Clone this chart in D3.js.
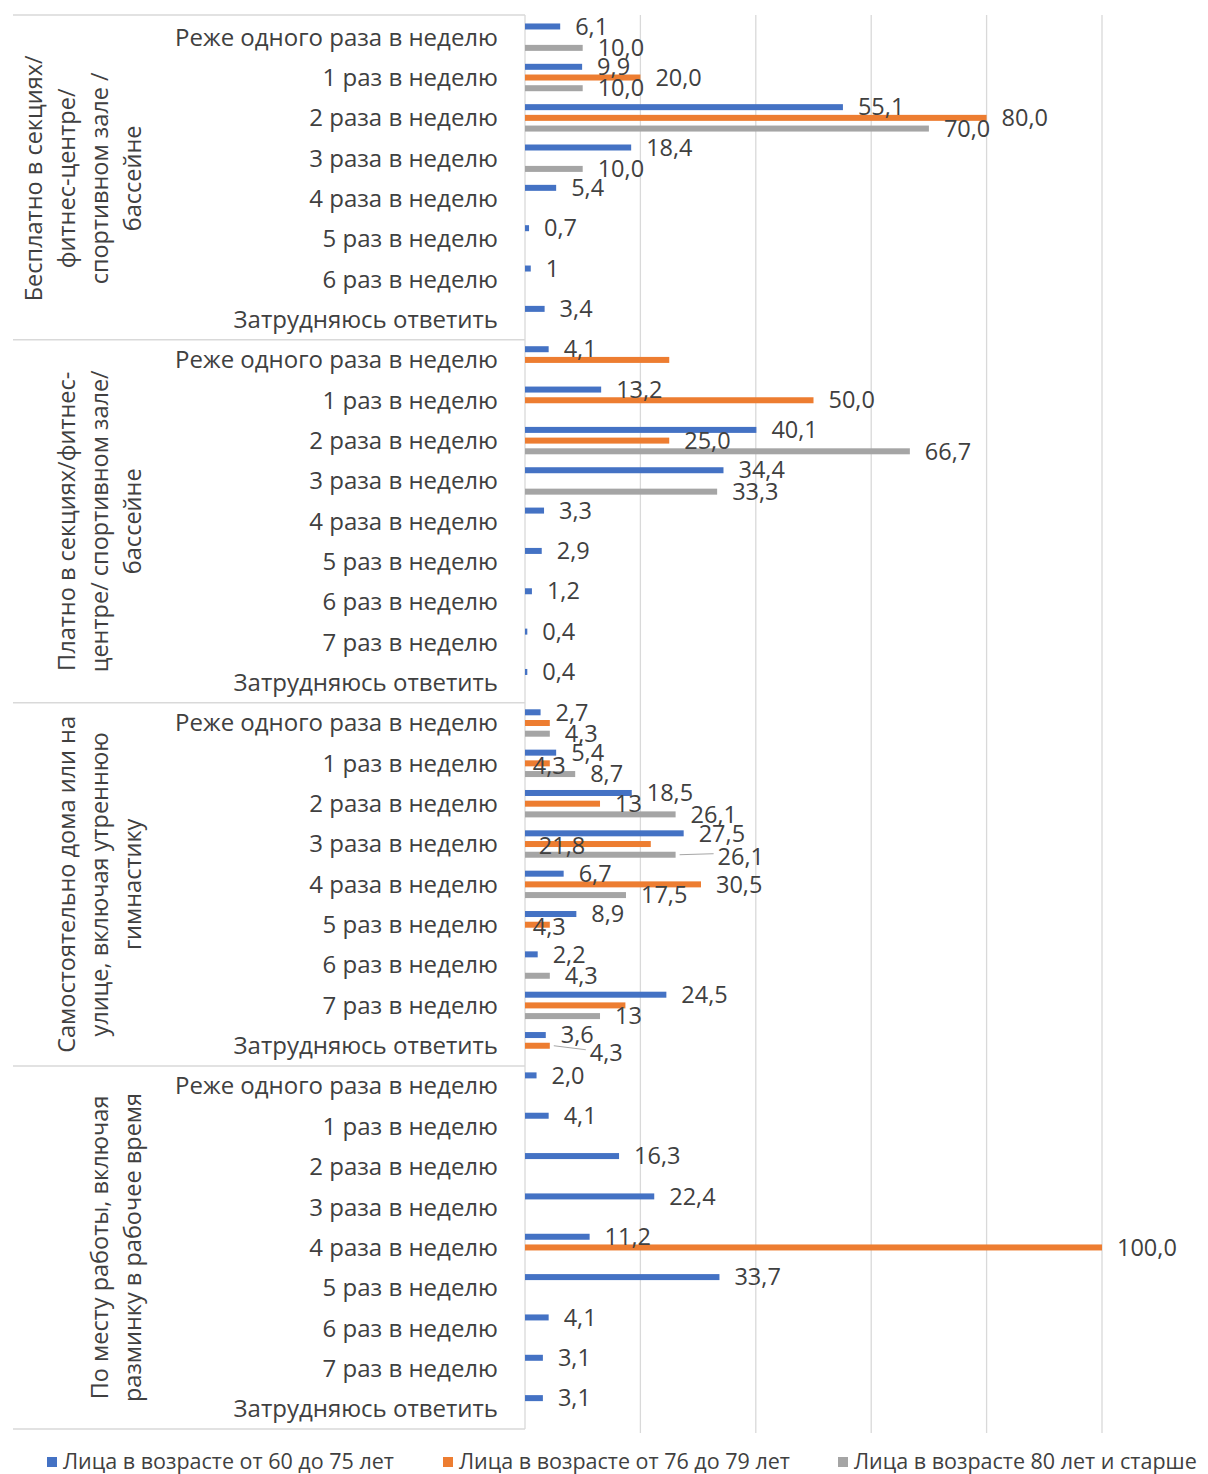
<!DOCTYPE html>
<html lang="ru">
<head>
<meta charset="utf-8">
<script src="https://cdn.jsdelivr.net/npm/d3@7"></script>
<style>
  html, body { margin: 0; padding: 0; background: #fff; }
  svg { display: block; font-family: "Open Sans", "Noto Sans", sans-serif; }
</style>
</head>
<body>
<svg id="chart" width="1208" height="1474"></svg>
<script>
// ---- data -------------------------------------------------------------
const groupNames = [
  ["Бесплатно в секциях/", "фитнес-центре/", "спортивном зале /", "бассейне"],
  ["Платно в секциях/фитнес-", "центре/ спортивном зале/", "бассейне"],
  ["Самостоятельно дома или на", "улице, включая утреннюю", "гимнастику"],
  ["По месту работы, включая", "разминку в рабочее время"]
];
const freqShort = ["Реже одного раза в неделю", "1 раз в неделю", "2 раза в неделю", "3 раза в неделю",
  "4 раза в неделю", "5 раз в неделю", "6 раз в неделю", "Затрудняюсь ответить"];
const freqFull = ["Реже одного раза в неделю", "1 раз в неделю", "2 раза в неделю", "3 раза в неделю",
  "4 раза в неделю", "5 раз в неделю", "6 раз в неделю", "7 раз в неделю", "Затрудняюсь ответить"];
const groupCategories = [freqShort, freqFull, freqFull, freqFull];

const seriesNames = ["Лица в возрасте от 60 до 75 лет", "Лица в возрасте от 76 до 79 лет", "Лица в возрасте 80 лет и старше"];
const seriesColors = ["#4472C4", "#ED7D31", "#A5A5A5"];

// values per category, groups concatenated in order
const age60to75 = [
  6.1, 9.9, 55.1, 18.4, 5.4, 0.7, 1, 3.4,
  4.1, 13.2, 40.1, 34.4, 3.3, 2.9, 1.2, 0.4, 0.4,
  2.7, 5.4, 18.5, 27.5, 6.7, 8.9, 2.2, 24.5, 3.6,
  2.0, 4.1, 16.3, 22.4, 11.2, 33.7, 4.1, 3.1, 3.1
];
const age76to79 = [
  null, 20.0, 80.0, null, null, null, null, null,
  25.0, 50.0, 25.0, null, null, null, null, null, null,
  4.3, 4.3, 13, 21.8, 30.5, 4.3, null, 17.4, 4.3,
  null, null, null, null, 100.0, null, null, null, null
];
const age80plus = [
  10.0, 10.0, 70.0, 10.0, null, null, null, null,
  null, null, 66.7, 33.3, null, null, null, null, null,
  4.3, 8.7, 26.1, 26.1, 17.5, null, 4.3, 13, null,
  null, null, null, null, null, null, null, null, null
];
const seriesValues = [age60to75, age76to79, age80plus];

const xTicks = [0, 20, 40, 60, 80, 100];

// labels shown without decimals, and bars whose label is not shown
const wholeNumberLabels = ["0:6", "1:19", "2:24"];
const hiddenLabels = ["1:8", "1:17", "1:24"];
// labels dragged away from their default spot (dx, dy) and whether a leader line joins them
const movedLabels = {
  "1:18": { dx: -32, dy: 2 },
  "1:22": { dx: -32, dy: 2 },
  "1:20": { dx: -127, dy: 2 },
  "2:20": { dx: 27, dy: 2, leader: true },
  "1:25": { dx: 25, dy: 7, leader: true }
};

// ---- layout -----------------------------------------------------------
const svg = d3.select("#chart");
const plotLeft = 525, plotRight = 1102, plotTop = 17, plotBottom = 1429;
const axisLeft = 13;
const textColor = "#404040";
const lineColor = "#D9D9D9";

const rows = [];
groupCategories.forEach((cats, g) => cats.forEach(c => rows.push({ group: g, cat: c })));

const x = d3.scaleLinear().domain([0, 100]).range([plotLeft, plotRight]);
const y = d3.scaleBand().domain(d3.range(rows.length)).range([plotTop, plotBottom]);
const slot = d3.scalePoint().domain(d3.range(seriesNames.length)).range([-10.7, 10.7]);
const barH = 6;

const ru = d3.formatLocale({ decimal: ",", thousands: "\u00a0", grouping: [3], currency: ["", ""] });
const fmt1 = ru.format(".1f"), fmt0 = ru.format(".0f");

// gridlines
svg.append("g")
  .selectAll("line").data(xTicks.filter(t => t > 0)).join("line")
  .attr("x1", d => x(d)).attr("x2", d => x(d))
  .attr("y1", plotTop - 2).attr("y2", plotBottom + 4)
  .attr("stroke", lineColor).attr("stroke-width", 1.3);

// category axis: vertical line + group separators
svg.append("line")
  .attr("x1", plotLeft).attr("x2", plotLeft)
  .attr("y1", plotTop - 2).attr("y2", plotBottom)
  .attr("stroke", lineColor).attr("stroke-width", 1.3);

let start = 0;
const groupSpans = groupCategories.map(cats => {
  const span = { from: start, to: start + cats.length - 1 };
  start += cats.length;
  return span;
});
const separatorYs = [plotTop - 2].concat(groupSpans.map(s => y(s.to) + y.bandwidth()));
svg.append("g")
  .selectAll("line").data(separatorYs).join("line")
  .attr("x1", axisLeft).attr("x2", plotLeft)
  .attr("y1", d => d).attr("y2", d => d)
  .attr("stroke", lineColor).attr("stroke-width", 1.5);

// category labels
svg.append("g")
  .selectAll("text").data(rows).join("text")
  .attr("x", 498)
  .attr("y", (d, i) => y(i) + y.bandwidth() / 2)
  .attr("dy", "0.35em")
  .attr("text-anchor", "end")
  .attr("font-size", 24)
  .attr("fill", textColor)
  .text(d => d.cat);

// group labels (rotated, stacked towards the category labels)
const lineStep = 33;
groupSpans.forEach((s, g) => {
  const cy = (y(s.from) + y(s.to) + y.bandwidth()) / 2;
  const lines = groupNames[g];
  const t = svg.append("g").attr("transform", `translate(0,${cy})`);
  lines.forEach((ln, i) => {
    const cx = 133 - lineStep * (lines.length - 1 - i);
    t.append("text")
      .attr("transform", `translate(${cx},0) rotate(-90)`)
      .attr("text-anchor", "middle")
      .attr("dy", "0.35em")
      .attr("font-size", 23.5)
      .attr("fill", textColor)
      .text(ln);
  });
});

// bars and data labels
const points = [];
seriesValues.forEach((vals, s) => vals.forEach((v, i) => {
  if (v != null) points.push({ s, i, v, key: `${s}:${i}` });
}));

const barY = d => y(d.i) + y.bandwidth() / 2 + slot(d.s);

svg.append("g")
  .selectAll("rect").data(points).join("rect")
  .attr("x", x(0))
  .attr("y", d => barY(d) - barH / 2)
  .attr("width", d => Math.max(x(d.v) - x(0), 1.5))
  .attr("height", barH)
  .attr("fill", d => seriesColors[d.s]);

const labelled = points.filter(d => !hiddenLabels.includes(d.key));
const labelPos = d => {
  const m = movedLabels[d.key] || { dx: 0, dy: 0 };
  return { lx: x(d.v) + 15 + m.dx, ly: barY(d) + m.dy, m };
};

// leader lines for dragged labels
svg.append("g")
  .selectAll("line").data(labelled.filter(d => movedLabels[d.key] && movedLabels[d.key].leader)).join("line")
  .attr("x1", d => x(d.v) + 4)
  .attr("y1", d => barY(d))
  .attr("x2", d => labelPos(d).lx - 4)
  .attr("y2", d => labelPos(d).ly - 3)
  .attr("stroke", "#A6A6A6").attr("stroke-width", 1);

svg.append("g")
  .selectAll("text").data(labelled).join("text")
  .attr("x", d => labelPos(d).lx)
  .attr("y", d => labelPos(d).ly)
  .attr("dy", "0.35em")
  .attr("font-size", 23.5)
  .attr("fill", textColor)
  .text(d => wholeNumberLabels.includes(d.key) ? fmt0(d.v) : fmt1(d.v));

// legend
const legendItems = [
  { name: seriesNames[0], color: seriesColors[0], x: 47 },
  { name: seriesNames[1], color: seriesColors[1], x: 443 },
  { name: seriesNames[2], color: seriesColors[2], x: 838 }
];
const lg = svg.append("g").attr("transform", "translate(0,1461)");
lg.selectAll("rect").data(legendItems).join("rect")
  .attr("x", d => d.x).attr("y", -4).attr("width", 10).attr("height", 10)
  .attr("fill", d => d.color);
lg.selectAll("text").data(legendItems).join("text")
  .attr("x", d => d.x + 16).attr("y", 0).attr("dy", "0.35em")
  .attr("font-size", 21.5)
  .attr("fill", textColor)
  .text(d => d.name);
</script>
</body>
</html>
